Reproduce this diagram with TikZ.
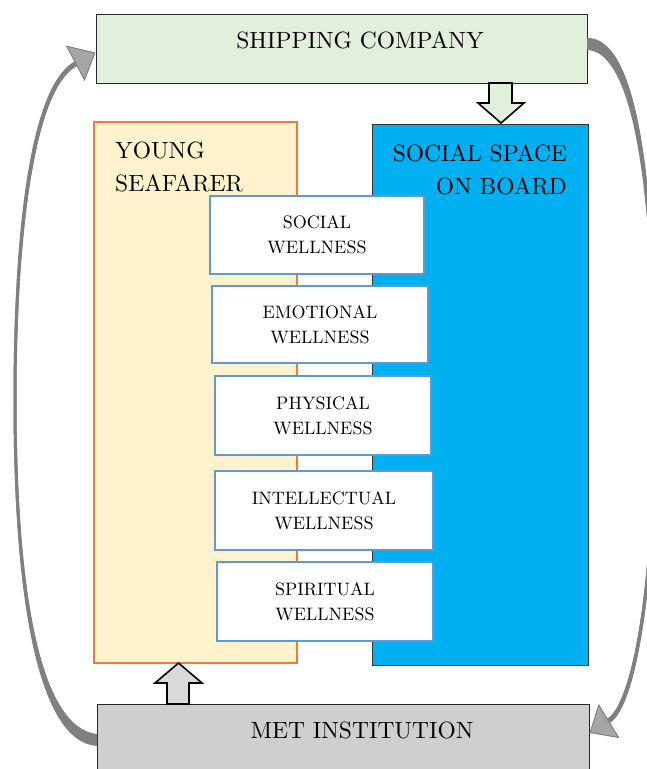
\documentclass[tikz,border=0pt]{standalone}
\usepackage{fontspec}
\setmainfont{lmroman10-regular}[Extension=.otf]
\usetikzlibrary{arrows.meta}
\definecolor{shipfill}{HTML}{E2EFDA}
\definecolor{youngfill}{HTML}{FFF2CC}
\definecolor{youngline}{HTML}{ED7D31}
\definecolor{socialfill}{HTML}{00B0F0}
\definecolor{wellline}{HTML}{5B9BD5}
\definecolor{metfill}{HTML}{D0CECE}
\definecolor{curveline}{HTML}{808080}
\definecolor{curvefill}{HTML}{A6A6A6}
\definecolor{uparrowfill}{HTML}{D9D9D9}
\tikzset{
  box/.style={rectangle, inner sep=0pt, anchor=center},
  titletext/.style={inner sep=0pt, font=\fontsize{23.5}{33}\selectfont},
  wellbox/.style={box, draw=wellline, line width=2pt, fill=white, align=center,
     font=\fontsize{18}{25}\selectfont},
  curvearrow/.style={draw=curveline, line width=3pt,
     -{Triangle[length=23pt,width=40pt,line width=1pt,fill=curvefill]}},
  taper/.style={fill=curveline, draw=none},
  blockarrow/.style={draw=black, line width=1.6pt, line join=miter}
}
\begin{document}
\begin{tikzpicture}[x=1pt,y=-1pt]
\useasboundingbox (0,0) rectangle (646,769);
% top and bottom boxes
\node[box, draw=black!85, line width=1pt, fill=shipfill, minimum width=491pt, minimum height=69pt] (ship) at (341.5,48.5) {};
\node[titletext] (shiptext) at (360,40) {SHIPPING COMPANY};
\node[box, draw=black!85, line width=1pt, fill=metfill, minimum width=492pt, minimum height=71pt] (met) at (343,739.5) {};
\node[titletext] (mettext) at (362,730) {MET INSTITUTION};
% tapered parts of the curved arrows
\fill[taper] (97,746) .. controls (38,742) and (13.5,600) .. (13.5,400)
   -- (16.5,400) .. controls (16.5,600) and (42,728) .. (97,734) -- cycle;
\fill[taper] (13.5,400) .. controls (13.5,200) and (36,80) .. (75.6,61.1)
   -- (78,65.5) .. controls (40,84) and (16.5,200) .. (16.5,400) -- cycle;
\fill[taper] (587,38) .. controls (632,37) and (656.5,150) .. (656.5,400)
   -- (653.5,400) .. controls (653.5,150) and (626,51) .. (587,50) -- cycle;
\fill[taper] (656.5,400) .. controls (656.5,600) and (634,709) .. (609.8,722.9)
   -- (607.2,718.7) .. controls (630,705) and (653.5,600) .. (653.5,400) -- cycle;
% curved feedback arrows
\draw[curvearrow] (met.west) .. controls (40,735) and (15,600) .. (15,400)
   .. controls (15,200) and (40,82) .. ([yshift=-4pt]ship.west);
\draw[curvearrow] ([yshift=4.5pt]ship.east) .. controls (630,44) and (655,150) .. (655,400)
   .. controls (655,600) and (632,707) .. ([yshift=6.5pt]met.east);
% two columns
\node[box, draw=youngline, line width=2pt, fill=youngfill, minimum width=203pt, minimum height=541pt] (young) at (195.5,392.5) {};
\node[titletext, anchor=north west, align=left] (youngtext) at (115,142) {YOUNG\\SEAFARER};
\node[box, draw=black!80, line width=1pt, fill=socialfill, minimum width=216pt, minimum height=541pt] (social) at (480,394.5) {};
\node[titletext, anchor=north east, align=right] (socialtext) at (567,144) {SOCIAL SPACE\\ON BOARD};
% wellness boxes
\node[wellbox, minimum width=214pt, minimum height=78pt] (w1) at (317,235) {SOCIAL\\WELLNESS};
\node[wellbox, minimum width=216pt, minimum height=77pt] (w2) at (320,324.5) {EMOTIONAL\\WELLNESS};
\node[wellbox, minimum width=216pt, minimum height=79pt] (w3) at (323,415.5) {PHYSICAL\\WELLNESS};
\node[wellbox, minimum width=218pt, minimum height=79pt] (w4) at (324,510.5) {INTELLECTUAL\\WELLNESS};
\node[wellbox, minimum width=216pt, minimum height=79pt] (w5) at (325,601.5) {SPIRITUAL\\WELLNESS};
% block arrows
\filldraw[blockarrow, fill=shipfill] (489,83) -- (489,103) -- (478,103) -- (501,123) -- (524,103) -- (512,103) -- (512,83) -- cycle;
\filldraw[blockarrow, fill=uparrowfill] (167,704) -- (167,683) -- (155,683) -- (178.5,663) -- (202,683) -- (189,683) -- (189,704) -- cycle;
\end{tikzpicture}
\end{document}
